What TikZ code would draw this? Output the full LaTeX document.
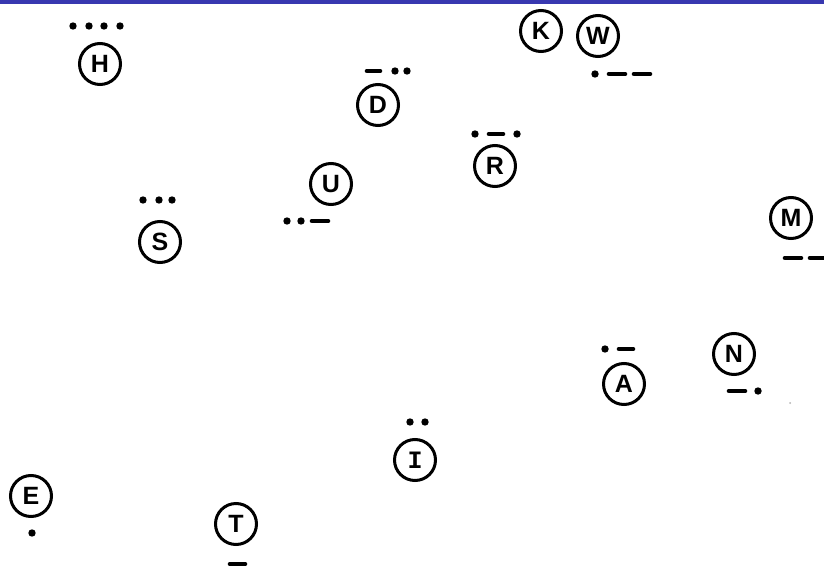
\documentclass[tikz,border=0pt]{standalone}
\usepackage{fontspec}
\setmainfont{Liberation Sans}
\newfontfamily\serifI{Liberation Mono}
\definecolor{topblue}{RGB}{56,56,176}
\begin{document}
\begin{tikzpicture}[x=1pt,y=-1pt,
  letter/.style={circle,draw=black,line width=3pt,minimum size=41pt,inner sep=0pt,font=\fontsize{25}{25}\selectfont\bfseries},
  dashline/.style={line width=4.6pt,line cap=round},
  dotmark/.style={fill=black}]
\useasboundingbox (0,0) rectangle (824,567);
\fill[white] (0,0) rectangle (824,567);
\fill[topblue] (0,0) rectangle (824,4);
% letters
\node[letter] (H) at (100,64) {H};
\node[letter] (K) at (541,31) {K};
\node[letter] (W) at (598,36) {W};
\node[letter] (D) at (378,105) {D};
\node[letter] (R) at (495,166) {R};
\node[letter] (U) at (331,184) {U};
\node[letter] (S) at (160,242) {S};
\node[letter] (M) at (791,218) {M};
\node[letter] (N) at (734,354) {N};
\node[letter] (A) at (624,384) {A};
\node[letter] (I) at (415,460) {\serifI I};
\node[letter] (E) at (31,496) {E};
\node[letter] (T) at (236,524) {T};
% morse: H ....
\foreach \x in {73,89,104,120} \fill[dotmark] (\x,26) circle (3.7);
% W .--
\fill[dotmark] (595,74) circle (3.7);
\draw[dashline] (609,74) -- (625,74);
\draw[dashline] (634,74) -- (650,74);
% D -..
\draw[dashline] (367,71) -- (380,71);
\fill[dotmark] (395,71) circle (3.7);
\fill[dotmark] (407,71) circle (3.7);
% R .-.
\fill[dotmark] (475,134) circle (3.7);
\draw[dashline] (489,134) -- (503,134);
\fill[dotmark] (517,134) circle (3.7);
% U ..-
\fill[dotmark] (287,221) circle (3.7);
\fill[dotmark] (301,221) circle (3.7);
\draw[dashline] (312,221) -- (328,221);
% S ...
\foreach \x in {143,159,172} \fill[dotmark] (\x,200) circle (3.7);
% M --
\draw[dashline] (785,258) -- (801,258);
\draw[dashline] (810,258) -- (826,258);
% A .-
\fill[dotmark] (605,349) circle (3.7);
\draw[dashline] (619,349) -- (633,349);
% N -.
\draw[dashline] (729,391) -- (745,391);
\fill[dotmark] (758,391) circle (3.7);
% I ..
\fill[dotmark] (410,422) circle (3.7);
\fill[dotmark] (425,422) circle (3.7);
% E .
\fill[dotmark] (32,533) circle (3.7);
% T -
\draw[dashline] (230,564) -- (245,564);
% faint speck
\fill[gray!60] (790,403) circle (1);
\end{tikzpicture}
\end{document}
